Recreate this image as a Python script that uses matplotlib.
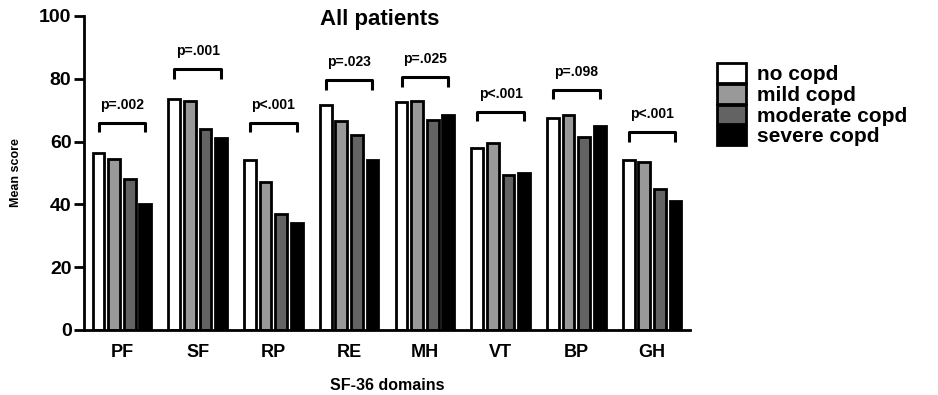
import numpy as np
import matplotlib
matplotlib.use("Agg")
import matplotlib.pyplot as plt
from matplotlib.patches import Patch

plt.rcParams['font.family'] = ['Liberation Sans', 'DejaVu Sans']
plt.rcParams['font.weight'] = 'bold'

domains = ['PF', 'SF', 'RP', 'RE', 'MH', 'VT', 'BP', 'GH']
groups = ['no copd', 'mild copd', 'moderate copd', 'severe copd']
no_copd = [56.5, 73.5, 54, 71.5, 72.5, 58, 67.5, 54]
mild_copd = [54.5, 73, 47, 66.5, 73, 59.5, 68.5, 53.5]
moderate_copd = [48, 64, 37, 62, 67, 49.5, 61.5, 45]
severe_copd = [40, 61, 34, 54, 68.5, 50, 65, 41]
p_labels = ['p=.002', 'p=.001', 'p<.001', 'p=.023', 'p=.025', 'p<.001', 'p=.098', 'p<.001']
bracket_y = [66, 83, 66, 79.5, 80.5, 69.5, 76.5, 63]

colors = ['white', '#999999', '#636363', 'black']
series = [no_copd, mild_copd, moderate_copd, severe_copd]

fig = plt.figure(figsize=(9.38, 3.95), dpi=100)
ax = fig.add_axes([84 / 938, 65 / 395, 606 / 938, 314 / 395])

x = np.arange(len(domains))
step = 0.205
for i, vals in enumerate(series):
    ax.bar(x + (i - 1.5) * step, vals, width=0.155, color=colors[i],
           edgecolor='black', linewidth=2)

# significance brackets
for xi, y, lab in zip(x, bracket_y, p_labels):
    x0 = xi - 1.5 * step
    x1 = xi + 1.5 * step
    ax.plot([x0, x0, x1, x1], [y - 3, y, y, y - 3], color='black', lw=2.2,
            solid_capstyle='butt', clip_on=False)
    ax.text(xi, y + 3.5, lab, ha='center', va='bottom', fontsize=10, fontweight='bold')

ax.set_xlim(-0.5, 7.5)
ax.set_ylim(0, 100)
ax.set_yticks([0, 20, 40, 60, 80, 100])
ax.set_xticks(x)
ax.set_xticklabels(domains, fontsize=13, fontweight='bold')
ax.tick_params(axis='y', labelsize=14, width=2, length=7, pad=2)
ax.tick_params(axis='x', length=0, pad=10)
for lab in ax.get_yticklabels():
    lab.set_fontweight('bold')
for s in ['top', 'right']:
    ax.spines[s].set_visible(False)
ax.spines['left'].set_linewidth(2)
ax.spines['bottom'].set_linewidth(2)

ax.set_xlabel('SF-36 domains', fontsize=11.5, fontweight='bold', labelpad=12)
ax.set_ylabel('Mean score', fontsize=9, fontweight='bold', labelpad=12)
fig.text(380 / 938, 1 - 25 / 395, 'All patients', ha='center', va='baseline',
         fontsize=16, fontweight='bold')

handles = [Patch(facecolor=c, edgecolor='black', linewidth=2) for c in colors]
fig.legend(handles, groups, loc='upper left', bbox_to_anchor=(707 / 938, 1 - 53 / 395),
           frameon=False, handlelength=1.35, handleheight=1.05,
           handletextpad=0.55, labelspacing=0.0, borderpad=0,
           prop={'weight': 'bold', 'size': 15})

fig.savefig('out.png', dpi=100)
